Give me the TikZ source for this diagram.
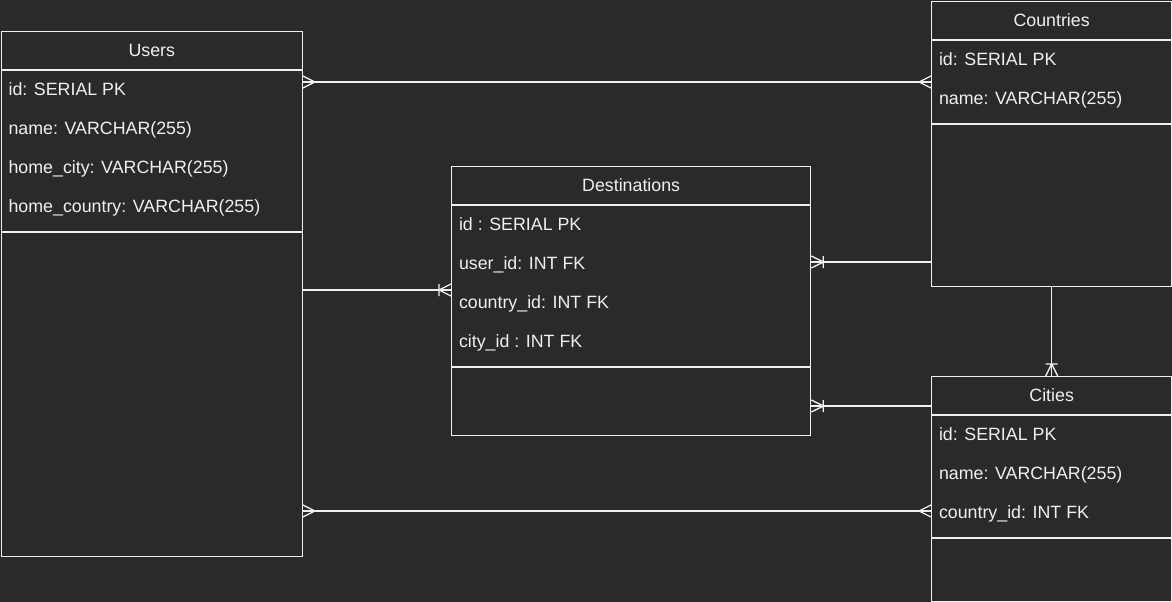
\documentclass[tikz,border=0pt]{standalone}
\usepackage{fontspec}
\setmainfont{Liberation Sans}
\usetikzlibrary{positioning}
\definecolor{bgdark}{RGB}{42,42,42}
\definecolor{inkline}{RGB}{240,240,240}

\begin{document}
\begin{tikzpicture}[x=1pt, y=-1pt, line width=1.3pt,
    every node/.style={font=\fontsize{17.8}{20}\selectfont},
    entity/.style={draw=inkline, rectangle, anchor=north west, inner sep=0pt},
    enthead/.style={text=inkline, minimum height=39pt, inner sep=0pt, outer sep=0pt, text height=12.7pt, text depth=0pt},
    attr/.style={text=inkline, minimum height=39pt, inner xsep=8pt, inner ysep=0pt, outer sep=0pt, text height=12.7pt, text depth=0pt},
    rel/.style={draw=inkline, line width=1.3pt},
    many/.pic={\draw[rel] (0,-6) -- (-12,0) -- (0,6);},
    many start/.pic={\draw[rel] (0,-6) -- (12,0) -- (0,6);},
    one many/.pic={\draw[rel] (0,-6) -- (-12,0) -- (0,6) (-12,-6) -- (-12,6);}]
    \fill[bgdark] (0,0) rectangle (1172,602);
    \useasboundingbox (0,0) rectangle (1172,602);

    % Users
    \node[entity, minimum width=301pt, minimum height=525pt] (users) at (0.6,31) {};
    \node[enthead, below=0pt of users.north] (users-h) {Users};
    \draw[rel] (users-h.south -| users.west) -- (users-h.south -| users.east);
    \node[attr, anchor=north west] (users-id) at (users-h.south -| users.west) {id: SERIAL PK};
    \node[attr, below right=0pt of users-id.south west] (users-name) {name: VARCHAR(255)};
    \node[attr, below right=0pt of users-name.south west] (users-city) {home\_city: VARCHAR(255)};
    \node[attr, below right=0pt of users-city.south west] (users-country) {home\_country: VARCHAR(255)};
    \draw[rel] ([yshift=-6pt]users-country.south -| users.west) -- ([yshift=-6pt]users-country.south -| users.east);

    % Countries
    \node[entity, minimum width=240pt, minimum height=285pt] (countries) at (931,1) {};
    \node[enthead, below=0pt of countries.north] (countries-h) {Countries};
    \draw[rel] (countries-h.south -| countries.west) -- (countries-h.south -| countries.east);
    \node[attr, anchor=north west] (countries-id) at (countries-h.south -| countries.west) {id: SERIAL PK};
    \node[attr, below right=0pt of countries-id.south west] (countries-name) {name: VARCHAR(255)};
    \draw[rel] ([yshift=-6pt]countries-name.south -| countries.west) -- ([yshift=-6pt]countries-name.south -| countries.east);

    % Destinations
    \node[entity, minimum width=359pt, minimum height=269pt] (dest) at (451,166) {};
    \node[enthead, below=0pt of dest.north] (dest-h) {Destinations};
    \draw[rel] (dest-h.south -| dest.west) -- (dest-h.south -| dest.east);
    \node[attr, anchor=north west] (dest-id) at (dest-h.south -| dest.west) {id : SERIAL PK};
    \node[attr, below right=0pt of dest-id.south west] (dest-user) {user\_id: INT FK};
    \node[attr, below right=0pt of dest-user.south west] (dest-country) {country\_id: INT FK};
    \node[attr, below right=0pt of dest-country.south west] (dest-city) {city\_id : INT FK};
    \draw[rel] ([yshift=-6pt]dest-city.south -| dest.west) -- ([yshift=-6pt]dest-city.south -| dest.east);

    % Cities
    \node[entity, minimum width=240pt, minimum height=225pt] (cities) at (931,376) {};
    \node[enthead, below=0pt of cities.north] (cities-h) {Cities};
    \draw[rel] (cities-h.south -| cities.west) -- (cities-h.south -| cities.east);
    \node[attr, anchor=north west] (cities-id) at (cities-h.south -| cities.west) {id: SERIAL PK};
    \node[attr, below right=0pt of cities-id.south west] (cities-name) {name: VARCHAR(255)};
    \node[attr, below right=0pt of cities-name.south west] (cities-country) {country\_id: INT FK};
    \draw[rel] ([yshift=-6pt]cities-country.south -| cities.west) -- ([yshift=-6pt]cities-country.south -| cities.east);

    % relations
    \draw[rel] ([yshift=-51pt]users.north east) -- ([yshift=-81pt]countries.north west)
        pic[pos=0, sloped, allow upside down] {many start} pic[pos=1, sloped, allow upside down] {many};
    \draw[rel] ([yshift=-259pt]users.north east) -- ([yshift=-124pt]dest.north west)
        pic[pos=1, sloped, allow upside down] {one many};
    \draw[rel] ([yshift=-261pt]countries.north west) -- ([yshift=-96pt]dest.north east)
        pic[pos=1, sloped, allow upside down] {one many};
    \draw[rel] (countries.south) -- (cities.north)
        pic[pos=1, sloped, allow upside down] {one many};
    \draw[rel] ([yshift=-30pt]cities.north west) -- ([yshift=-240pt]dest.north east)
        pic[pos=1, sloped, allow upside down] {one many};
    \draw[rel] ([yshift=-480pt]users.north east) -- ([yshift=-135pt]cities.north west)
        pic[pos=0, sloped, allow upside down] {many start} pic[pos=1, sloped, allow upside down] {many};
\end{tikzpicture}
\end{document}
